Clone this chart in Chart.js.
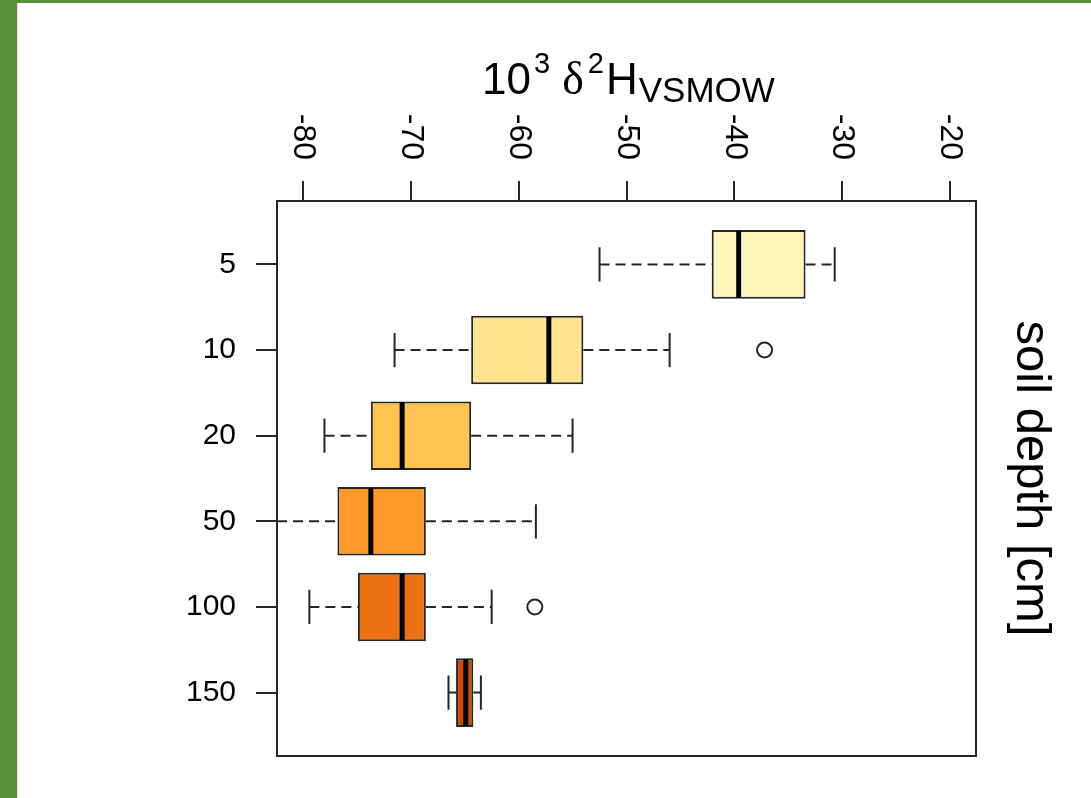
<!DOCTYPE html>
<html>
<head>
<meta charset="utf-8">
<script src="https://cdn.jsdelivr.net/npm/chart.js@4.4.1/dist/chart.umd.min.js"></script>
<style>
  html, body { margin: 0; padding: 0; background: #ffffff; }
  #wrap { position: relative; width: 1091px; height: 798px; overflow: hidden; }
  #chart { position: absolute; left: 0; top: 0; }
  .edge-left { position: absolute; left: 0; top: 0; width: 17px; height: 798px; background: #5a8f3a; }
  .edge-line { position: absolute; left: 17px; top: 0; width: 1px; height: 798px; background: #e6e6e6; }
  .edge-top { position: absolute; left: 0; top: 0; width: 1091px; height: 3px; background: #5a8f3a; }
</style>
</head>
<body>
<div id="wrap">
  <canvas id="chart" width="1091" height="798"></canvas>
  <div class="edge-line"></div>
  <div class="edge-left"></div>
  <div class="edge-top"></div>
</div>
<script>
// Soil water deuterium per sampling depth (box-and-whisker summary)
const depths       = ['5', '10', '20', '50', '100', '150'];
const whiskerLow   = [-52.5, -71.5, -78.0, -82.4, -79.4, -66.5];
const quartileLow  = [-42.1, -64.4, -73.7, -76.8, -74.9, -65.8];
const medians      = [-39.6, -57.2, -70.8, -73.7, -70.8, -64.9];
const quartileHigh = [-33.4, -54.0, -64.4, -68.6, -68.6, -64.2];
const whiskerHigh  = [-30.7, -46.0, -55.0, -58.4, -62.5, -63.5];
const outlierDepth = ['10', '100'];
const outlierValue = [-37.2, -58.5];
const xTickValues  = [-80, -70, -60, -50, -40, -30, -20];
const boxFills     = ['#fff7bc', '#fee391', '#fec44f', '#fe9929', '#ec7014', '#cc4c02'];

const SANS = '"Liberation Sans", Arial, Helvetica, sans-serif';
const SERIF = '"Liberation Serif", "DejaVu Serif", serif';
const INK = '#262626';

const pos = d => depths.indexOf(d) + 1;

const boxData = depths.map((d, i) => ({ x: [quartileLow[i], quartileHigh[i]], y: i + 1 }));
const outlierData = outlierDepth.map((d, i) => ({ x: outlierValue[i], y: pos(d) }));

// Whiskers, staples, medians, frame, rotated tick labels and titles
const boxplotParts = {
  id: 'boxplotParts',
  beforeDatasetsDraw(chart) {
    const { ctx, scales: { x, y } } = chart;
    ctx.save();
    ctx.strokeStyle = INK;
    ctx.lineWidth = 2;
    depths.forEach((d, i) => {
      const yc = y.getPixelForValue(i + 1);
      ctx.setLineDash([10, 6]);
      ctx.beginPath();
      ctx.moveTo(x.getPixelForValue(whiskerLow[i]), yc);
      ctx.lineTo(x.getPixelForValue(quartileLow[i]), yc);
      ctx.moveTo(x.getPixelForValue(quartileHigh[i]), yc);
      ctx.lineTo(x.getPixelForValue(whiskerHigh[i]), yc);
      ctx.stroke();
      ctx.setLineDash([]);
      const y0 = y.getPixelForValue(i + 1 - 0.2);
      const y1 = y.getPixelForValue(i + 1 + 0.2);
      ctx.beginPath();
      [whiskerLow[i], whiskerHigh[i]].forEach(v => {
        const px = x.getPixelForValue(v);
        ctx.moveTo(px, y0);
        ctx.lineTo(px, y1);
      });
      ctx.stroke();
    });
    ctx.restore();
  },
  afterDatasetsDraw(chart) {
    const { ctx, scales: { x, y } } = chart;
    ctx.save();
    ctx.strokeStyle = '#000';
    ctx.lineWidth = 5;
    ctx.lineCap = 'butt';
    depths.forEach((d, i) => {
      const px = x.getPixelForValue(medians[i]);
      ctx.beginPath();
      ctx.moveTo(px, y.getPixelForValue(i + 1 - 0.4) + 1);
      ctx.lineTo(px, y.getPixelForValue(i + 1 + 0.4) - 1);
      ctx.stroke();
    });
    ctx.restore();
  },
  afterDraw(chart) {
    const { ctx, chartArea: a, scales: { x } } = chart;
    ctx.save();
    // plot frame
    ctx.strokeStyle = INK;
    ctx.lineWidth = 2;
    ctx.strokeRect(a.left, a.top, a.right - a.left, a.bottom - a.top);

    // x tick labels, turned a quarter clockwise
    ctx.fillStyle = '#000';
    ctx.font = '32px ' + SANS;
    ctx.textAlign = 'right';
    ctx.textBaseline = 'middle';
    x.ticks.forEach(t => {
      ctx.save();
      ctx.translate(x.getPixelForValue(t.value), a.top - 41);
      ctx.rotate(Math.PI / 2);
      ctx.fillText(String(t.value), 0, 0);
      ctx.restore();
    });

    // axis title: 10^3 δ^2H_VSMOW
    const parts = [
      { t: '10', font: '44px ' + SANS, dy: 0, gap: 3 },
      { t: '3', font: '29px ' + SANS, dy: -21, gap: 12 },
      { t: 'δ', font: '46px ' + SERIF, dy: 0, gap: 4 },
      { t: '2', font: '29px ' + SANS, dy: -21, gap: 2 },
      { t: 'H', font: '44px ' + SANS, dy: 0, gap: 1 },
      { t: 'VSMOW', font: '35px ' + SANS, dy: 8, gap: 0 }
    ];
    ctx.textAlign = 'left';
    ctx.textBaseline = 'alphabetic';
    let total = 0;
    parts.forEach(p => { ctx.font = p.font; p.w = ctx.measureText(p.t).width; total += p.w + p.gap; });
    let cx = (a.left + a.right) / 2 + 2 - total / 2;
    const base = a.top - 107;
    parts.forEach(p => {
      ctx.font = p.font;
      ctx.fillText(p.t, cx, base + p.dy);
      cx += p.w + p.gap;
    });

    // right-hand title
    ctx.font = '49px ' + SANS;
    ctx.textAlign = 'center';
    ctx.save();
    ctx.translate(a.right + 41, (a.top + a.bottom) / 2);
    ctx.rotate(Math.PI / 2);
    ctx.fillText('soil depth [cm]', 0, 0);
    ctx.restore();
    ctx.restore();
  }
};

new Chart(document.getElementById('chart'), {
  type: 'bar',
  data: {
    datasets: [
      {
        type: 'bar',
        data: boxData,
        backgroundColor: boxFills,
        borderColor: INK,
        borderWidth: 2,
        borderSkipped: false,
        barPercentage: 0.8,
        categoryPercentage: 1.0
      },
      {
        type: 'scatter',
        data: outlierData,
        pointStyle: 'circle',
        pointRadius: 7.5,
        pointBorderWidth: 2,
        pointBorderColor: INK,
        pointBackgroundColor: 'rgba(0,0,0,0)'
      }
    ]
  },
  options: {
    indexAxis: 'y',
    responsive: false,
    animation: false,
    devicePixelRatio: 1,
    layout: { padding: { left: 0, top: 0, right: 115, bottom: 42 } },
    plugins: { legend: { display: false }, tooltip: { enabled: false } },
    scales: {
      x: {
        type: 'linear',
        position: 'top',
        min: -82.4,
        max: -17.6,
        offset: false,
        afterBuildTicks: s => { s.ticks = xTickValues.map(v => ({ value: v })); },
        afterFit: s => { s.height = 201; },
        ticks: { display: false },
        grid: { display: true, offset: false, drawOnChartArea: false, drawTicks: true, tickLength: 20, color: INK, lineWidth: 2 },
        border: { display: true, color: INK, width: 2 }
      },
      y: {
        type: 'linear',
        position: 'left',
        reverse: true,
        offset: false,
        min: 0.26,
        max: 6.74,
        afterBuildTicks: s => { s.ticks = depths.map((d, i) => ({ value: i + 1 })); },
        afterFit: s => { s.width = 277; },
        ticks: {
          autoSkip: false,
          padding: 20,
          color: '#000',
          font: { family: SANS, size: 30 },
          callback: v => depths[v - 1]
        },
        grid: { display: true, offset: false, drawOnChartArea: false, drawTicks: true, tickLength: 21, color: INK, lineWidth: 2 },
        border: { display: true, color: INK, width: 2 }
      }
    }
  },
  plugins: [boxplotParts]
});
</script>
</body>
</html>
